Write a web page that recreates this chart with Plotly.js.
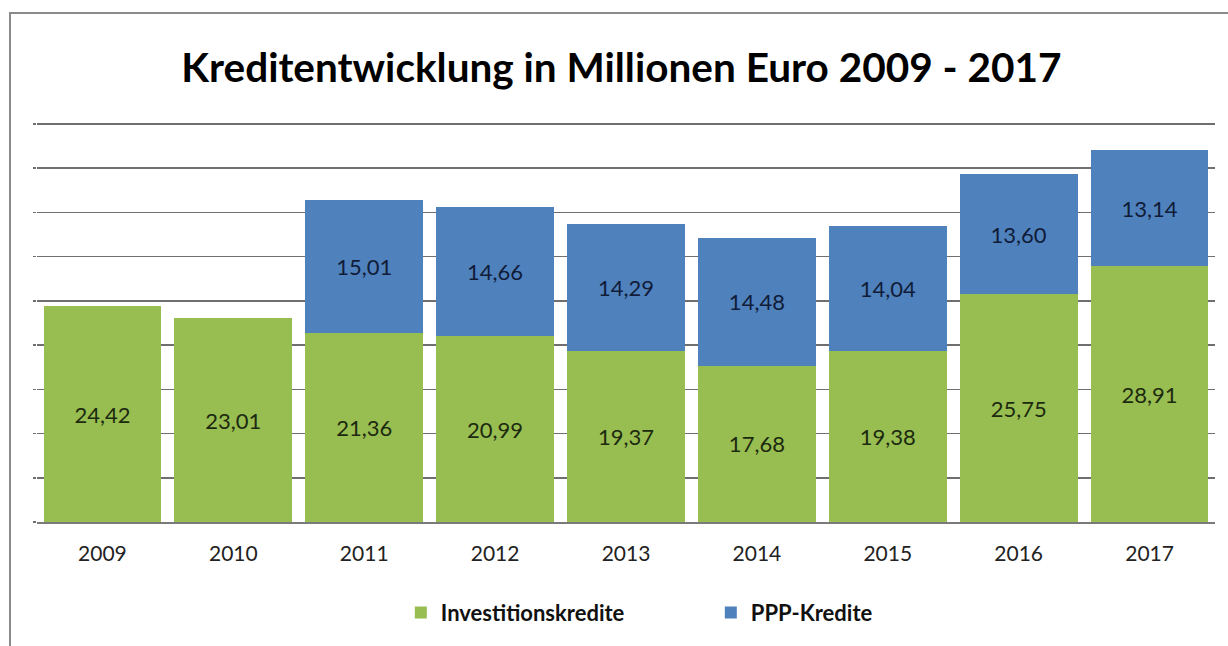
<!DOCTYPE html>
<html>
<head>
<meta charset="utf-8">
<script src="https://cdn.plot.ly/plotly-3.0.1.min.js"></script>
<style>
html,body{margin:0;padding:0;background:#fff;}
#wrap{position:relative;width:1228px;height:646px;overflow:hidden;}
#chart{position:absolute;left:0;top:0;width:1228px;height:646px;}
#frame{position:absolute;left:9px;top:12px;width:1300px;height:700px;border-left:2px solid #8a8a8a;border-top:2px solid #8a8a8a;pointer-events:none;}
</style>
</head>
<body>
<div id="wrap">
<div id="chart"></div>
<div id="frame"></div>
</div>
<script>
const years = ['2009','2010','2011','2012','2013','2014','2015','2016','2017'];
const investitionskredite = [24.42, 23.01, 21.36, 20.99, 19.37, 17.68, 19.38, 25.75, 28.91];
const pppKredite = [null, null, 15.01, 14.66, 14.29, 14.48, 14.04, 13.60, 13.14];
const seriesNames = ['Investitionskredite', 'PPP-Kredite'];
const titleText = 'Kreditentwicklung in Millionen Euro 2009 - 2017';

const FONT = 'Lato, "Open Sans", sans-serif';

const traces = [
  {
    type: 'bar', name: seriesNames[0], x: years, y: investitionskredite,
    marker: {color: '#98BD50', line: {width: 0}},
    texttemplate: '%{y:.2f}', textposition: 'inside', insidetextanchor: 'middle',
    textfont: {family: FONT, size: 22, color: '#1c2a10'},
    hoverinfo: 'x+y'
  },
  {
    type: 'bar', name: seriesNames[1], x: years, y: pppKredite,
    marker: {color: '#4F81BD', line: {width: 0}},
    texttemplate: '%{y:.2f}', textposition: 'inside', insidetextanchor: 'middle',
    textfont: {family: FONT, size: 22, color: '#101c38'},
    hoverinfo: 'x+y'
  }
];

const layout = {
  width: 1228, height: 646,
  barmode: 'stack', bargap: 0.1,
  separators: ',.',
  paper_bgcolor: 'rgba(0,0,0,0)', plot_bgcolor: 'rgba(0,0,0,0)',
  margin: {l: 37, r: 13, t: 120, b: 124, pad: 0},
  title: {
    text: '<b>' + titleText + '</b>',
    font: {family: FONT, size: 40.5, color: '#000'},
    x: 0.506, xanchor: 'center', xref: 'container',
    y: 1 - 68/646, yanchor: 'middle', yref: 'container'
  },
  xaxis: {
    type: 'category',
    tickfont: {family: FONT, size: 21, color: '#222'},
    showline: true, linecolor: '#7a7a7a', linewidth: 2,
    ticks: '', showgrid: false, ticklabelstandoff: 12
  },
  yaxis: {
    range: [0, 45.45], dtick: 5, tick0: 0,
    showticklabels: false,
    showgrid: true, gridcolor: '#6f6f6f', gridwidth: 1.5,
    zeroline: false, ticks: 'outside', ticklen: 3, tickcolor: '#6f6f6f', tickwidth: 1.5
  },
  showlegend: true,
  legend: {
    orientation: 'h', x: 0.572, xanchor: 'center', y: -0.2255, yanchor: 'middle',
    font: {family: FONT, size: 22, color: '#111', weight: 'bold'},
    entrywidth: 265, entrywidthmode: 'pixels',
    traceorder: 'normal'
  }
};

Plotly.newPlot('chart', traces, layout, {displayModeBar: false, staticPlot: true});
</script>
</body>
</html>
